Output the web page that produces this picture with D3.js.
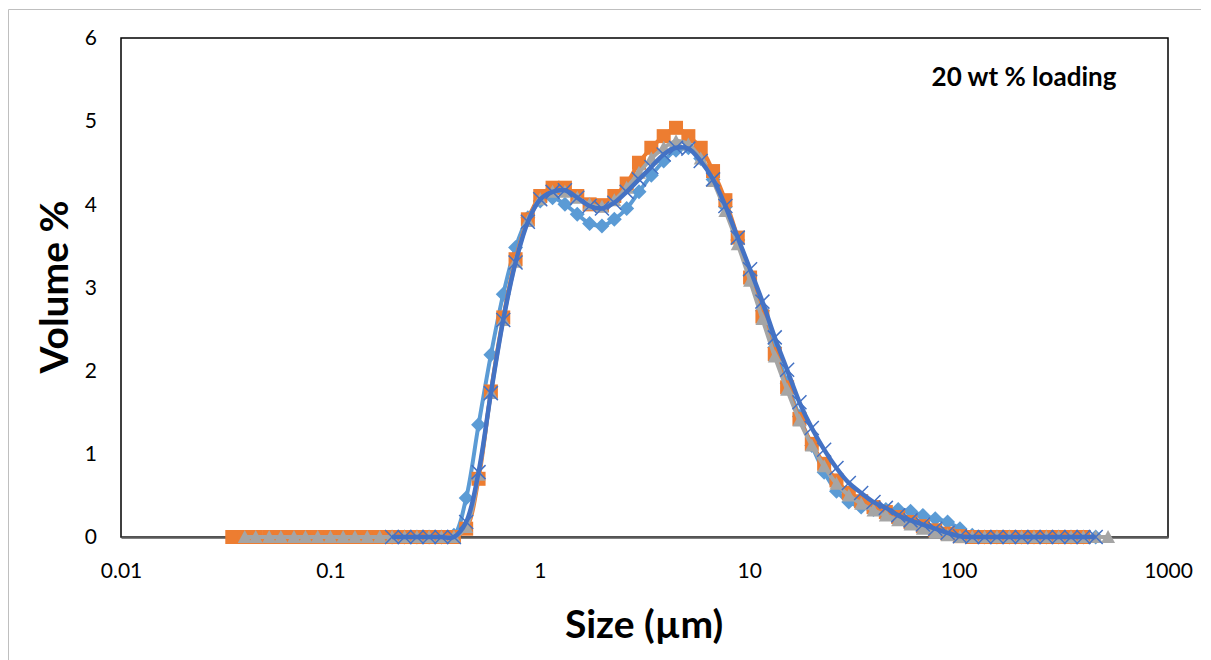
<!DOCTYPE html>
<html>
<head>
<meta charset="utf-8">
<script src="https://cdn.jsdelivr.net/npm/d3@7"></script>
<style>
  body { margin: 0; background: #fff; }
  svg { display: block; font-family: Lato, "Open Sans", sans-serif; }
</style>
</head>
<body>
<div id="chart"></div>
<script>
// size classes (µm)
const sizes = [0.034, 0.039, 0.044, 0.051, 0.058, 0.067, 0.076, 0.087, 0.1, 0.115,
  0.131, 0.15, 0.172, 0.197, 0.226, 0.259, 0.296, 0.339, 0.389, 0.445,
  0.51, 0.584, 0.669, 0.766, 0.877, 1.005, 1.151, 1.318, 1.51, 1.729,
  1.981, 2.269, 2.599, 2.976, 3.409, 3.905, 4.472, 5.122, 5.867, 6.72,
  7.697, 8.816, 10.097, 11.565, 13.246, 15.172, 17.377, 19.904, 22.797, 26.111,
  29.907, 34.255, 39.234, 44.938, 51.471, 58.953, 67.523, 77.339, 88.583, 101.46,
  116.21, 133.103, 152.453, 174.616, 200, 229.075, 262.376, 300.518, 344.206, 394.244,
  451.556, 517.2];

// volume % per size class, null = no point
const seriesDiamond = [null, null, null, null, null, null, null, null, null, null,
  null, null, null, 0, 0, 0, 0, 0, 0.02, 0.47,
  1.35, 2.19, 2.92, 3.48, 3.84, 4.04, 4.08, 4.0, 3.88, 3.77,
  3.74, 3.82, 3.95, 4.15, 4.35, 4.52, 4.65, 4.68, 4.55, 4.3,
  3.97, 3.57, 3.15, 2.72, 2.28, 1.85, 1.45, 1.1, 0.78, 0.55,
  0.42, 0.36, 0.33, 0.33, 0.33, 0.31, 0.26, 0.22, 0.18, 0.1,
  0.02, 0, 0, 0, 0, 0, 0, 0, 0, 0,
  0, null];

const seriesSquare = [0, 0, 0, 0, 0, 0, 0, 0, 0, 0,
  0, 0, 0, 0, 0, 0, 0, 0, 0, 0.1,
  0.7, 1.75, 2.64, 3.34, 3.82, 4.1, 4.2, 4.2, 4.1, 4.0,
  3.99, 4.1, 4.25, 4.5, 4.68, 4.82, 4.92, 4.82, 4.68, 4.4,
  4.05, 3.6, 3.12, 2.65, 2.2, 1.8, 1.42, 1.12, 0.88, 0.68,
  0.53, 0.43, 0.36, 0.3, 0.24, 0.18, 0.13, 0.08, 0.04, 0.01,
  0, 0, 0, 0, 0, 0, 0, 0, 0, 0,
  null, null];

const seriesTriangle = [null, 0, 0, 0, 0, 0, 0, 0, 0, 0,
  0, 0, 0, 0, 0, 0, 0, 0, 0, 0.12,
  0.75, 1.73, 2.61, 3.31, 3.8, 4.06, 4.15, 4.15, 4.08, 4.0,
  3.97, 4.05, 4.2, 4.38, 4.55, 4.68, 4.76, 4.72, 4.55, 4.28,
  3.92, 3.52, 3.08, 2.62, 2.17, 1.77, 1.4, 1.1, 0.85, 0.64,
  0.5, 0.4, 0.32, 0.26, 0.2, 0.15, 0.1, 0.05, 0.02, 0,
  0, 0, 0, 0, 0, 0, 0, 0, 0, 0,
  0, 0];

const seriesCross = [null, null, null, null, null, null, null, null, null, null,
  null, null, null, 0, 0, 0, 0, 0, 0, 0.18,
  0.78, 1.73, 2.61, 3.3, 3.79, 4.06, 4.15, 4.17, 4.08, 3.98,
  3.95, 4.02, 4.15, 4.3, 4.45, 4.6, 4.68, 4.67, 4.52, 4.3,
  3.98, 3.6, 3.22, 2.83, 2.4, 2.01, 1.62, 1.31, 1.05, 0.83,
  0.65, 0.53, 0.42, 0.35, 0.26, 0.2, 0.15, 0.1, 0.05, 0.01,
  0, 0, 0, 0, 0, 0, 0, 0, 0, 0,
  0, null];

const xTicks = [0.01, 0.1, 1, 10, 100, 1000];
const yTicks = [0, 1, 2, 3, 4, 5, 6];

const width = 1211;
const height = 660;
const plotLeft = 121, plotRight = 1168, plotTop = 38, plotBottom = 537;

const svg = d3.select("#chart").append("svg")
  .attr("width", width)
  .attr("height", height);

// outer chart border (only top and left are in frame)
svg.append("path")
  .attr("d", "M8.5,700V9.5H1201")
  .style("fill", "none")
  .style("stroke", "#bfbfbf")
  .style("stroke-width", 1);

const xScale = d3.scaleLog().domain([0.01, 1000]).range([plotLeft, plotRight]);
const yScale = d3.scaleLinear().domain([0, 6]).range([plotBottom, plotTop]);

// plot area frame
svg.append("rect")
  .attr("x", plotLeft).attr("y", plotTop)
  .attr("width", plotRight - plotLeft).attr("height", plotBottom - plotTop)
  .style("fill", "none")
  .style("stroke", "#000")
  .style("stroke-width", 1.5);

const yAxis = svg.append("g")
  .attr("transform", `translate(${plotLeft},0)`)
  .call(d3.axisLeft(yScale).tickValues(yTicks).tickFormat(d3.format("d")).tickSize(0).tickPadding(24));
yAxis.select(".domain").remove();
yAxis.selectAll("text").style("font-size", "21px").style("fill", "#000")
  .style("font-family", "Lato, sans-serif");

const xAxis = svg.append("g")
  .attr("transform", `translate(0,${plotBottom})`)
  .call(d3.axisBottom(xScale).tickValues(xTicks).tickFormat((d) => String(d)).tickSize(0).tickPadding(26));
xAxis.select(".domain")
  .style("stroke", "#595959")
  .style("stroke-width", 2.5);
xAxis.selectAll("text").style("font-size", "21px").style("fill", "#000")
  .style("font-family", "Lato, sans-serif");

const plot = svg.append("g");

function pts(values) {
  return sizes.map((s, i) => ({ x: s, v: values[i] })).filter((d) => d.v !== null);
}

const line = d3.line()
  .x((d) => xScale(d.x))
  .y((d) => yScale(d.v))
  .curve(d3.curveCatmullRom.alpha(0.5));

// light blue diamonds
const dData = pts(seriesDiamond);
plot.append("path").datum(dData).attr("d", line)
  .style("fill", "none").style("stroke", "#5B9BD5").style("stroke-width", 4);
plot.selectAll(".dia").data(dData).enter().append("path")
  .attr("class", "dia")
  .attr("transform", (d) => `translate(${xScale(d.x)},${yScale(d.v)})`)
  .attr("d", "M0,-7.5L7.5,0L0,7.5L-7.5,0Z")
  .style("fill", "#5B9BD5");

// orange squares
const sData = pts(seriesSquare);
plot.append("path").datum(sData).attr("d", line)
  .style("fill", "none").style("stroke", "#ED7D31").style("stroke-width", 4);
plot.selectAll(".sq").data(sData).enter().append("rect")
  .attr("class", "sq")
  .attr("x", (d) => xScale(d.x) - 7)
  .attr("y", (d) => yScale(d.v) - 7)
  .attr("width", 14).attr("height", 14)
  .style("fill", "#ED7D31");

// gray triangles
const tData = pts(seriesTriangle);
plot.append("path").datum(tData).attr("d", line)
  .style("fill", "none").style("stroke", "#A5A5A5").style("stroke-width", 4);
plot.selectAll(".tri").data(tData).enter().append("path")
  .attr("class", "tri")
  .attr("transform", (d) => `translate(${xScale(d.x)},${yScale(d.v)})`)
  .attr("d", "M0,-7L7,6L-7,6Z")
  .style("fill", "#A5A5A5");

// dark blue crosses
const cData = pts(seriesCross);
plot.selectAll(".cross").data(cData).enter().append("path")
  .attr("class", "cross")
  .attr("transform", (d) => `translate(${xScale(d.x)},${yScale(d.v)})`)
  .attr("d", "M-7,-7L7,7M-7,7L7,-7")
  .style("stroke", "#4472C4")
  .style("stroke-width", 1.5);
plot.append("path").datum(cData).attr("d", line)
  .style("fill", "none").style("stroke", "#4472C4").style("stroke-width", 4.5);

svg.append("text")
  .attr("x", 1024).attr("y", 86)
  .style("text-anchor", "middle")
  .style("font-size", "26px").style("font-weight", "bold")
  .text("20 wt % loading");

svg.append("text")
  .attr("transform", "translate(68,287) rotate(-90)")
  .style("text-anchor", "middle")
  .style("font-size", "39px").style("font-weight", "bold")
  .text("Volume %");

svg.append("text")
  .attr("x", 644).attr("y", 638)
  .style("text-anchor", "middle")
  .style("font-size", "39px").style("font-weight", "bold")
  .text("Size (µm)");
</script>
</body>
</html>
